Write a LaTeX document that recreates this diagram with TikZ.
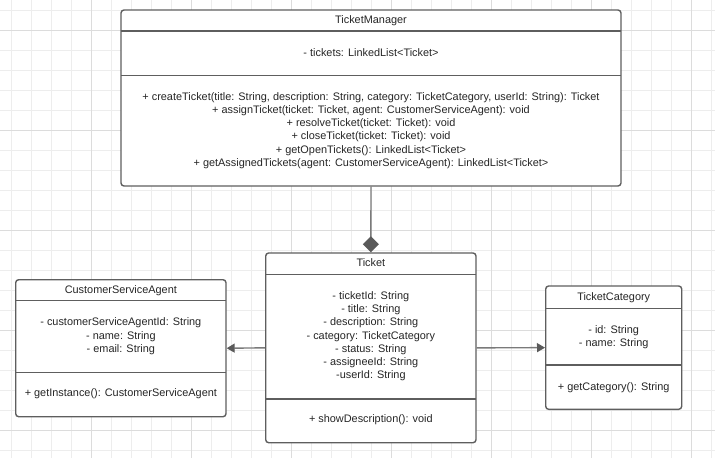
\documentclass[tikz,border=0pt]{standalone}
\usepackage{fontspec}
\setmainfont{Liberation Sans}
\usetikzlibrary{arrows.meta}
\definecolor{gridminor}{HTML}{EDEDED}
\definecolor{gridmajor}{HTML}{DCDCDC}
\definecolor{boxline}{HTML}{5E5E5E}
\definecolor{txt}{HTML}{262626}
\definecolor{conn}{HTML}{7A7A7A}
\definecolor{tip}{HTML}{5A5A5A}
\tikzset{
  umlbox/.style={draw=boxline, line width=1.4pt, fill=white, rounded corners=3pt, inner sep=0pt},
  sepline/.style={draw=boxline, line width=1.3pt},
  umltext/.style={text=txt, align=center, inner sep=0pt, font=\fontsize{10.9}{13.3}\selectfont},
  conline/.style={draw=conn, line width=1.4pt},
  comp/.style={conline, -{Diamond[length=16pt, width=16pt, fill=tip, color=tip]}},
  assoc/.style={conline, -{Triangle[length=8pt, width=9pt, fill=tip, color=tip]}},
}
\begin{document}
\begin{tikzpicture}[x=1pt, y=-1pt]
\useasboundingbox (0,0) rectangle (715,458);
\fill[white] (0,0) rectangle (715,458);
% grid
\foreach \x in {11,31,...,711} \draw[gridminor, line width=0.8pt] (\x,0) -- (\x,458);
\foreach \y in {10,30,...,450} \draw[gridminor, line width=0.8pt] (0,\y) -- (715,\y);
\foreach \x in {91,191,...,691} \draw[gridmajor, line width=0.9pt] (\x,0) -- (\x,458);
\foreach \y in {30,130,...,430} \draw[gridmajor, line width=0.9pt] (0,\y) -- (715,\y);

% TicketManager
\node[umlbox, minimum width=500pt, minimum height=176pt] (tm) at (371,98) {};
\draw[sepline] (121,31) -- (621,31);
\draw[sepline] (121,75.7) -- (621,75.7);
\node[umltext] (tmtitle) at (371,20.5) {TicketManager};
\node[umltext] (tmattr) at (371,52.8) {- tickets: LinkedList<Ticket>};
\node[umltext] (tmops) at (371,130.5) {+ createTicket(title: String, description: String, category: TicketCategory, userId: String): Ticket\\
+ assignTicket(ticket: Ticket, agent: CustomerServiceAgent): void\\
+ resolveTicket(ticket: Ticket): void\\
+ closeTicket(ticket: Ticket): void\\
+ getOpenTickets(): LinkedList<Ticket>\\
+ getAssignedTickets(agent: CustomerServiceAgent): LinkedList<Ticket>};

% Ticket
\node[umlbox, minimum width=210.3pt, minimum height=189.7pt] (tk) at (370.85,347.85) {};
\draw[sepline] (265.7,274.3) -- (476,274.3);
\draw[sepline] (265.7,399) -- (476,399);
\node[umltext] (tktitle) at (370.85,262.2) {Ticket};
\node[umltext] (tkattr) at (370.85,336.2) {- ticketId: String\\
- title: String\\
- description: String\\
- category: TicketCategory\\
- status: String\\
- assigneeId: String\\
-userId: String};
\node[umltext] (tkops) at (370.85,419.8) {+ showDescription(): void};

% CustomerServiceAgent
\node[umlbox, minimum width=210.3pt, minimum height=137pt] (csa) at (120.85,348.2) {};
\draw[sepline] (15.7,300.7) -- (226,300.7);
\draw[sepline] (15.7,372.7) -- (226,372.7);
\node[umltext] (csatitle) at (120.85,290.2) {CustomerServiceAgent};
\node[umltext] (csaattr) at (120.85,336.2) {- customerServiceAgentId: String\\
- name: String\\
- email: String};
\node[umltext] (csaops) at (120.85,393.8) {+ getInstance(): CustomerServiceAgent};

% TicketCategory
\node[umlbox, minimum width=136pt, minimum height=123.3pt] (tc) at (613.7,347.65) {};
\draw[sepline] (545.7,308.3) -- (681.7,308.3);
\draw[sepline] (545.7,365) -- (681.7,365);
\node[umltext] (tctitle) at (613.7,297.8) {TicketCategory};
\node[umltext] (tcattr) at (613.7,337.1) {- id: String\\
- name: String};
\node[umltext] (tcops) at (613.7,387.2) {+ getCategory(): String};

% connectors
\draw[comp] (tm.south) -- (tk.north);
\draw[assoc] (tk.west) -- (csa.east);
\draw[assoc] (tk.east) -- (tc.west);
\end{tikzpicture}
\end{document}
